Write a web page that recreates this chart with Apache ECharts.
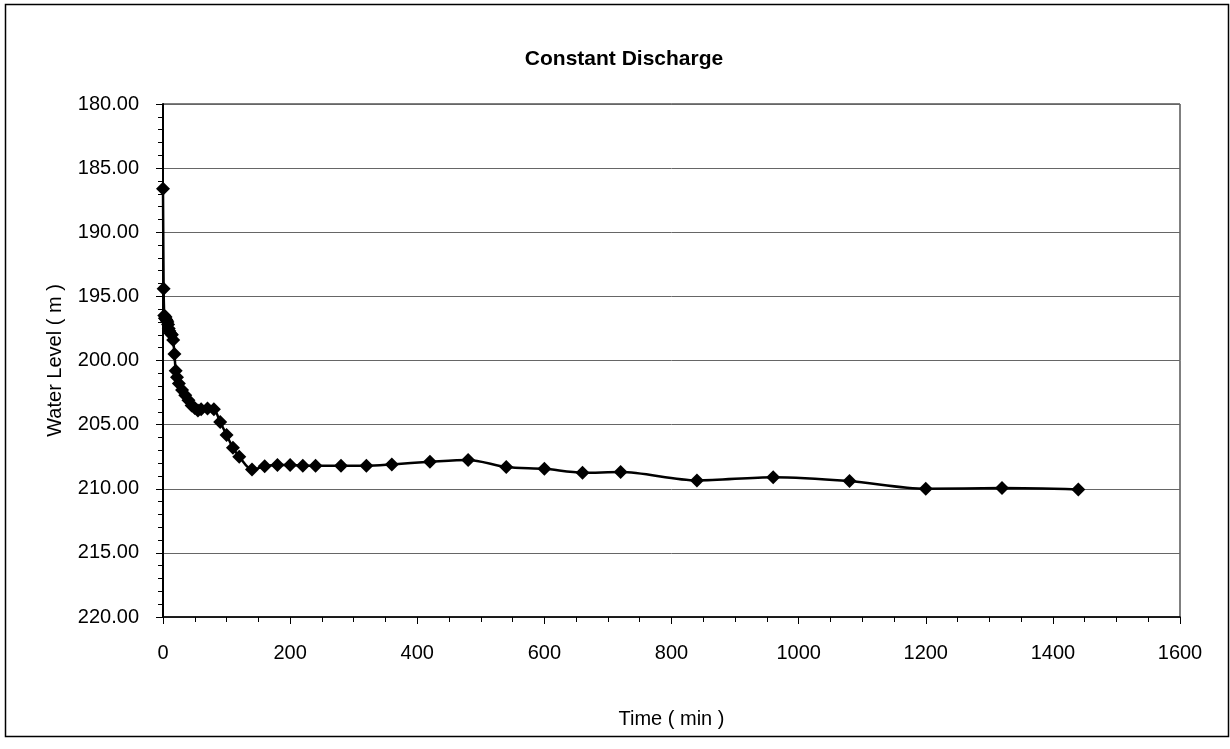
<!DOCTYPE html>
<html>
<head>
<meta charset="utf-8">
<script src="https://cdn.jsdelivr.net/npm/echarts@6/dist/echarts.min.js"></script>
<style>
html,body{margin:0;padding:0;background:#fff;}
#chart{width:1230px;height:749px;}
</style>
</head>
<body>
<div id="chart"></div>
<script>
const titleText = "Constant Discharge";
const xAxisName = "Time ( min )";
const yAxisName = "Water Level ( m )";
const timeMin = [0,1,2,3,4,5,6,7,8,9,10,12,14,16,18,20,22,25,30,35,40,45,50,55,60,70,80,90,100,110,120,140,160,180,200,220,240,280,320,360,420,480,540,600,660,720,840,960,1080,1200,1320,1440];
const waterLevel = [186.6,194.4,196.5,196.7,196.6,196.8,196.9,197.0,197.2,197.5,197.7,197.9,198.0,198.4,199.5,200.8,201.3,201.8,202.3,202.7,203.1,203.5,203.7,203.9,203.8,203.75,203.8,204.8,205.8,206.8,207.5,208.5,208.25,208.15,208.15,208.2,208.2,208.2,208.2,208.1,207.9,207.75,208.3,208.45,208.75,208.7,209.35,209.1,209.4,210.0,209.95,210.05];

const FONT = "'Liberation Sans', Arial, sans-serif";
const chart = echarts.init(document.getElementById('chart'), null, {renderer:'canvas'});
chart.setOption({
  backgroundColor:'#fff',
  animation:false,
  title:{text:titleText,left:619,top:44,textAlign:'center',
    textStyle:{fontFamily:FONT,fontSize:21,fontWeight:'bold',color:'#000'}},
  graphic:[{type:'rect',shape:{x:5.5,y:4.5,width:1223,height:732},
    style:{fill:'none',stroke:'#000',lineWidth:1.5},silent:true}],
  grid:{left:163,right:50,top:104,bottom:132,show:true,borderColor:'#000',borderWidth:1,backgroundColor:'transparent'},
  xAxis:{type:'value',min:0,max:1600,interval:200,
    name:xAxisName,nameLocation:'middle',nameGap:92,
    nameTextStyle:{fontFamily:FONT,fontSize:20,color:'#000'},
    axisLine:{show:true,onZero:false,lineStyle:{color:'#000',width:1.5}},
    axisTick:{show:true,length:7,lineStyle:{color:'#000'}},
    minorTick:{show:true,splitNumber:4,length:5,lineStyle:{color:'#000'}},
    axisLabel:{fontFamily:FONT,fontSize:20,color:'#000',margin:26,
      formatter:v=>String(v)},
    splitLine:{show:false}},
  yAxis:{type:'value',min:180,max:220,interval:5,inverse:true,
    name:yAxisName,nameLocation:'middle',nameGap:98,
    nameTextStyle:{fontFamily:FONT,fontSize:20,color:'#000'},
    axisLine:{show:true,onZero:false,lineStyle:{color:'#000',width:2}},
    axisTick:{show:true,length:7,lineStyle:{color:'#000'}},
    minorTick:{show:true,splitNumber:5,length:5,lineStyle:{color:'#000'}},
    axisLabel:{fontFamily:FONT,fontSize:20,color:'#000',margin:24,
      formatter:v=>v.toFixed(2)},
    splitLine:{show:true,lineStyle:{color:'#666',width:1}}},
  series:[{type:'line',data:timeMin.map((t,i)=>[t,waterLevel[i]]),
    smooth:0.3,symbol:'diamond',symbolSize:14,
    lineStyle:{color:'#000',width:2.5},
    itemStyle:{color:'#000'}}]
});
</script>
</body>
</html>
